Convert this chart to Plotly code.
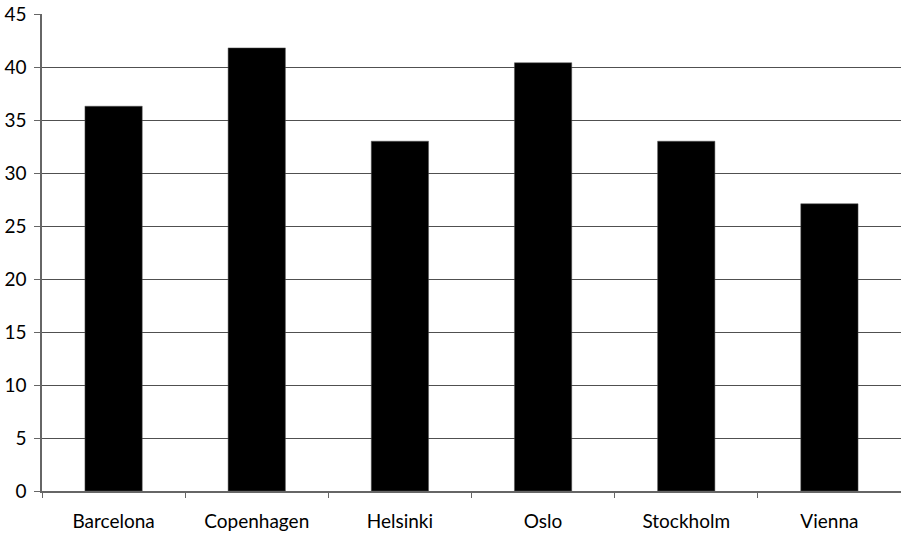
import plotly.graph_objects as go

cities = ["Barcelona", "Copenhagen", "Helsinki", "Oslo", "Stockholm", "Vienna"]
values = [36.3, 41.8, 33.0, 40.4, 33.0, 27.1]
y_ticks = [0, 5, 10, 15, 20, 25, 30, 35, 40, 45]

fig = go.Figure(go.Bar(
    x=cities, y=values,
    marker=dict(color="black", line=dict(color="#555555", width=0.5)),
))

fig.update_layout(
    width=901, height=533,
    margin=dict(l=42, r=0, t=14, b=42),
    paper_bgcolor="white", plot_bgcolor="white",
    bargap=0.6,
    showlegend=False,
    font=dict(family="Lato", size=19, color="black"),
)
fig.update_xaxes(
    showline=True, linecolor="#666666", linewidth=1.5,
    ticks="outside", tickson="boundaries", ticklen=5, tickcolor="#666666",
    showgrid=False, tickfont=dict(size=19), ticklabelstandoff=12,
)
fig.update_yaxes(
    range=[0, 45], tickvals=y_ticks,
    showline=True, linecolor="#666666", linewidth=1.5,
    ticks="outside", ticklen=6, tickcolor="#666666",
    showgrid=True, gridcolor="#505050", gridwidth=1.3,
    zeroline=False, tickfont=dict(size=19), ticklabelstandoff=4,
    ticklabeloverflow="allow",
)

fig.write_html(
    "out.html",
    config={"displayModeBar": False},
    post_script="document.body.style.margin='0';document.body.style.overflow='hidden';",
)
